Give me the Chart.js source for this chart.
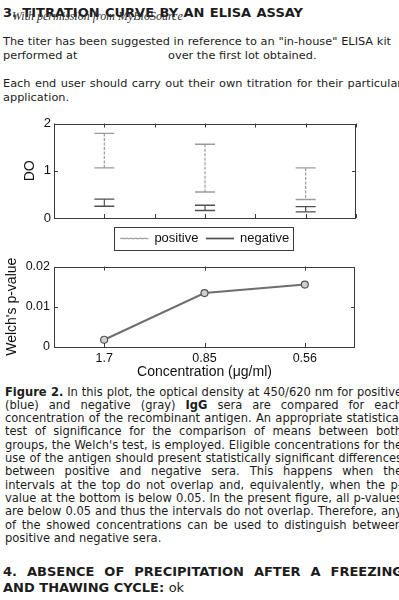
<!DOCTYPE html>
<html>
<head>
<meta charset="utf-8">
<script src="https://cdn.jsdelivr.net/npm/chart.js@4"></script>
<style>
  html, body { margin: 0; padding: 0; background: #fff; }
  body { width: 399px; height: 600px; overflow: hidden; position: relative; }
  .ln { position: absolute; white-space: nowrap; color: #1c1c1c; font-family: 'DejaVu Sans', Verdana, sans-serif; }
  .j { text-align: justify; text-align-last: justify; }
  .body { font-size: 12px; line-height: 14px; height: 14px; }
  .cap { font-size: 11.8px; line-height: 13.3px; height: 13.3px; }
  .hd { font-size: 13px; line-height: 16px; height: 16px; font-weight: bold; }
  .wm { position: absolute; font-family: 'Liberation Serif', 'DejaVu Serif', serif; font-style: italic; font-size: 12px; color: #333; white-space: nowrap; }
  .cv { position: absolute; left: 0; }
</style>
</head>
<body>
<div class="ln hd j" data-w="300" style="left:3px; top:4.5px;">3. TITRATION CURVE BY AN ELISA ASSAY</div>
<div class="wm" style="left:12px; top:9px;">With permission from MyBioSource</div>

<div class="ln body j" data-w="388" style="left:3px; top:34px;">The titer has been suggested in reference to an "in-house" ELISA kit</div>
<div class="ln body" style="left:3px; top:48px;">performed at</div>
<div class="ln body" style="left:168px; top:48px;">over the first lot obtained.</div>
<div class="ln body j" data-w="399" style="left:3px; top:76px;">Each end user should carry out their own titration for their particular</div>
<div class="ln body" style="left:3px; top:90px;">application.</div>

<canvas id="top" class="cv" width="399" height="145" style="top:110px;"></canvas>
<canvas id="bot" class="cv" width="399" height="130" style="top:255px;"></canvas>

<div class="ln cap j" data-w="397" style="left:5px; top:385.5px;"><b>Figure 2.</b> In this plot, the optical density at 450/620 nm for positive</div>
<div class="ln cap j" data-w="397" style="left:5px; top:398.8px;">(blue) and negative (gray) <b>IgG</b> sera are compared for each</div>
<div class="ln cap j" data-w="397" style="left:5px; top:412.1px;">concentration of the recombinant antigen. An appropriate statistical</div>
<div class="ln cap j" data-w="397" style="left:5px; top:425.4px;">test of significance for the comparison of means between both</div>
<div class="ln cap j" data-w="397" style="left:5px; top:438.7px;">groups, the Welch's test, is employed. Eligible concentrations for the</div>
<div class="ln cap j" data-w="397" style="left:5px; top:452px;">use of the antigen should present statistically significant differences</div>
<div class="ln cap j" data-w="397" style="left:5px; top:465.3px;">between positive and negative sera. This happens when the</div>
<div class="ln cap j" data-w="397" style="left:5px; top:478.6px;">intervals at the top do not overlap and, equivalently, when the p-</div>
<div class="ln cap j" data-w="397" style="left:5px; top:491.9px;">value at the bottom is below 0.05. In the present figure, all p-values</div>
<div class="ln cap j" data-w="397" style="left:5px; top:505.2px;">are below 0.05 and thus the intervals do not overlap. Therefore, any</div>
<div class="ln cap j" data-w="397" style="left:5px; top:518.5px;">of the showed concentrations can be used to distinguish between</div>
<div class="ln cap" style="left:5px; top:531.8px;">positive and negative sera.</div>

<div class="ln hd j" data-w="400" style="left:3px; top:564px;">4. ABSENCE OF PRECIPITATION AFTER A FREEZING</div>
<div class="ln hd" style="left:3px; top:580px;">AND THAWING CYCLE: <span style="font-weight:normal">ok</span></div>

<script>
// ---- data ----
const categories = ['1.7', '0.85', '0.56'];
const positiveHigh = [1.79, 1.56, 1.06];
const positiveLow  = [1.06, 0.55, 0.39];
const negativeHigh = [0.40, 0.27, 0.24];
const negativeLow  = [0.25, 0.16, 0.13];
const pValues = [0.0018, 0.0134, 0.0155];
const seriesNames = ['positive', 'negative'];

// shrink a text block's font (uniformly) so its justified lines fit their widths
function fitGroup(cls, baseSize) {
  const els = [...document.querySelectorAll('.ln.' + cls)];
  let ratio = 1;
  els.forEach(el => {
    el.style.fontSize = baseSize + 'px';
    if (!el.dataset.w) return;
    el.style.width = 'auto';
    el.style.whiteSpace = 'nowrap';
    const w = el.getBoundingClientRect().width;
    ratio = Math.min(ratio, (+el.dataset.w - 1) / w);
  });
  const fs = baseSize * ratio;
  els.forEach(el => {
    el.style.fontSize = fs + 'px';
    if (el.dataset.w) {
      el.style.width = el.dataset.w + 'px';
      el.style.whiteSpace = 'normal';
    }
  });
}
fitGroup('body', 12);
fitGroup('cap', 11.8);
fitGroup('hd', 13);

Chart.defaults.font.family = "'Liberation Sans', Arial, sans-serif";
Chart.defaults.color = '#111';
Chart.defaults.animation = false;

const frameColor = '#3a3a3a';

// box around plot + inward tick marks on all sides
const framePlugin = {
  id: 'frame',
  afterDatasetsDraw(chart) {
    const { ctx, chartArea: a, scales } = chart;
    ctx.save();
    ctx.strokeStyle = frameColor;
    ctx.lineWidth = 1;
    ctx.strokeRect(Math.round(a.left) + 0.5, Math.round(a.top) + 0.5,
                   Math.round(a.right - a.left) - 1, Math.round(a.bottom - a.top) - 1);
    const L = 4;
    ctx.beginPath();
    scales.x.ticks.forEach((t, i) => {
      const px = Math.round(scales.x.getPixelForTick(i)) + 0.5;
      ctx.moveTo(px, a.bottom); ctx.lineTo(px, a.bottom - L);
      ctx.moveTo(px, a.top); ctx.lineTo(px, a.top + L);
    });
    scales.y.ticks.forEach((t, i) => {
      const py = Math.round(scales.y.getPixelForTick(i)) + 0.5;
      ctx.moveTo(a.left, py); ctx.lineTo(a.left + L, py);
      ctx.moveTo(a.right, py); ctx.lineTo(a.right - L, py);
    });
    ctx.stroke();
    ctx.restore();
  }
};

// border around the legend items
const legendBoxPlugin = {
  id: 'legendBox',
  afterDraw(chart) {
    const lg = chart.legend;
    if (!lg || !lg.legendHitBoxes || !lg.legendHitBoxes.length) return;
    const hb = lg.legendHitBoxes;
    const first = hb[0], last = hb[hb.length - 1];
    const x0 = first.left - 7, x1 = last.left + last.width + 4;
    const y0 = first.top - 5, y1 = first.top + first.height + 5;
    const ctx = chart.ctx;
    ctx.save();
    ctx.strokeStyle = frameColor;
    ctx.lineWidth = 1;
    ctx.strokeRect(Math.round(x0) + 0.5, Math.round(y0) + 0.5, Math.round(x1 - x0), Math.round(y1 - y0));
    ctx.restore();
  }
};

function errorBars(high, low) {
  const d = [];
  high.forEach((h, i) => {
    d.push({ x: i + 1, y: h }, { x: i + 1, y: low[i] }, { x: i + 1.5, y: null });
  });
  return d;
}

const posColor = '#9a9a9a';
const negColor = '#505050';

new Chart(document.getElementById('top'), {
  type: 'line',
  data: {
    datasets: [
      {
        label: seriesNames[0],
        data: errorBars(positiveHigh, positiveLow),
        borderColor: posColor, backgroundColor: posColor,
        borderWidth: 1.2, borderDash: [3, 1.5],
        pointStyle: 'line', pointRadius: 10, pointBorderWidth: 1.4,
        pointBorderColor: posColor, spanGaps: false
      },
      {
        label: seriesNames[1],
        data: errorBars(negativeHigh, negativeLow),
        borderColor: negColor, backgroundColor: negColor,
        borderWidth: 1.2,
        pointStyle: 'line', pointRadius: 10, pointBorderWidth: 1.4,
        pointBorderColor: negColor, spanGaps: false
      }
    ]
  },
  options: {
    responsive: false,
    devicePixelRatio: 1,
    layout: { padding: { top: 13.5, right: 43, left: 0, bottom: 0 } },
    plugins: {
      tooltip: { enabled: false },
      legend: {
        position: 'bottom',
        fullSize: false,
        labels: { boxWidth: 27, boxHeight: 0.5, padding: 8, color: '#111', font: { size: 13 } }
      }
    },
    scales: {
      x: {
        type: 'linear', min: 0.5, max: 3.5,
        ticks: { stepSize: 0.5, display: false },
        grid: { drawOnChartArea: false, drawTicks: false },
        border: { display: false },
        afterFit: (s) => { s.height = 6; }
      },
      y: {
        min: 0, max: 2,
        ticks: { stepSize: 1, padding: 3, font: { size: 13 }, color: '#111' },
        grid: { drawOnChartArea: false, drawTicks: false },
        border: { display: false },
        title: { display: true, text: 'DO', font: { size: 14 }, color: '#111', padding: { top: 21.6, bottom: 0 } },
        afterFit: (s) => { s.width = 54; }
      }
    }
  },
  plugins: [framePlugin, legendBoxPlugin]
});

new Chart(document.getElementById('bot'), {
  type: 'line',
  data: {
    labels: categories,
    datasets: [{
      label: "Welch's p-value",
      data: pValues,
      borderColor: '#6e6e6e', borderWidth: 2,
      pointRadius: 3.5, pointBorderWidth: 1.2,
      pointBorderColor: '#555', pointBackgroundColor: '#cfcfcf'
    }]
  },
  options: {
    responsive: false,
    devicePixelRatio: 1,
    layout: { padding: { top: 5, right: 44, left: 0, bottom: 0 } },
    plugins: { legend: { display: false }, tooltip: { enabled: false } },
    scales: {
      x: {
        type: 'category', offset: true,
        ticks: { padding: 4, font: { size: 12.5 }, color: '#111', maxRotation: 0 },
        grid: { drawOnChartArea: false, drawTicks: false, offset: false },
        border: { display: false },
        title: { display: true, text: 'Concentration (\u03bcg/ml)', font: { size: 14 }, color: '#111', padding: { top: 0, bottom: 4 } },
        afterFit: (s) => { s.height = 38; }
      },
      y: {
        min: 0, max: 0.02,
        ticks: { stepSize: 0.01, padding: 4, font: { size: 12.5 }, color: '#111' },
        grid: { drawOnChartArea: false, drawTicks: false },
        border: { display: false },
        title: { display: true, text: "Welch's p-value", font: { size: 14 }, color: '#111', padding: { top: 4, bottom: 0 } },
        afterFit: (s) => { s.width = 54; }
      }
    }
  },
  plugins: [framePlugin]
});
</script>
</body>
</html>
